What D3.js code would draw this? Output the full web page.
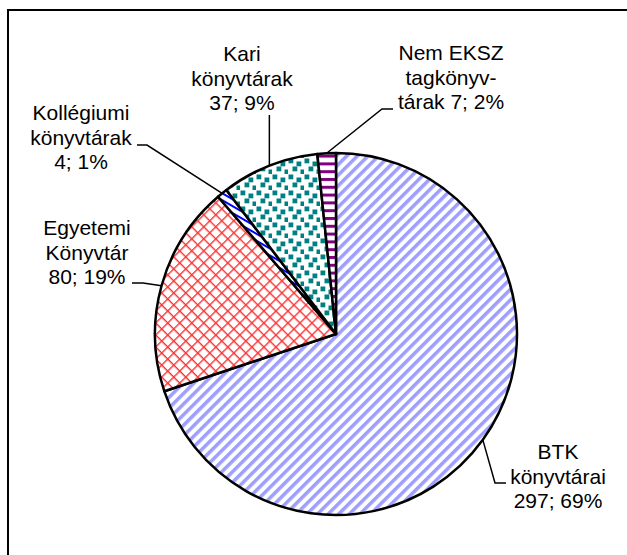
<!DOCTYPE html>
<html>
<head>
<meta charset="utf-8">
<script src="https://cdn.jsdelivr.net/npm/d3@7"></script>
<style>
  html, body { margin: 0; padding: 0; background: #fff; }
  svg { display: block; }
  text { font-family: "Liberation Sans", Arial, sans-serif; }
</style>
</head>
<body>
<script>
// ---- data ----
const categories = ["BTK könyvtárai", "Egyetemi Könyvtár", "Kollégiumi könyvtárak", "Kari könyvtárak", "Nem EKSZ tagkönyvtárak"];
const values = [297, 80, 4, 37, 7];
const percents = ["69%", "19%", "1%", "9%", "2%"];
const nameLines = [
  ["BTK", "könyvtárai"],
  ["Egyetemi", "Könyvtár"],
  ["Kollégiumi", "könyvtárak"],
  ["Kari", "könyvtárak"],
  ["Nem EKSZ", "tagkönyv-", "tárak"]
];
const patternIds = ["pBTK", "pEgy", "pKoll", "pKari", "pNem"];

// ---- layout (not data) ----
const W = 627, H = 555;
const cx = 336, cy = 334, R = 181;
const fontSize = 21, lineH = 24.5;
const labelLayout = [
  { x: 558, y: 459, leader: [[495, 483], [506, 483]] },
  { x: 87,  y: 235, leader: [[143, 283], [132, 283]] },
  { x: 81,  y: 120, leader: [[147, 145], [137, 145]] },
  { x: 242, y: 61,  leader: "vertical", top: 115 },
  { x: 451, y: 60,  leader: [[382, 109], [393, 109]] }
];

const svg = d3.select("body").append("svg").attr("width", W).attr("height", H);
svg.append("rect").attr("width", W).attr("height", H).attr("fill", "#fff");

// frame
svg.append("rect").attr("x", 8).attr("y", 10).attr("width", 700).attr("height", 700)
  .attr("fill", "none").attr("stroke", "#000").attr("stroke-width", 2);

const defs = svg.append("defs");
function basePattern(id, w, h, transform) {
  const p = defs.append("pattern").attr("id", id).attr("patternUnits", "userSpaceOnUse")
    .attr("width", w).attr("height", h);
  if (transform) p.attr("patternTransform", transform);
  p.append("rect").attr("width", w).attr("height", h).attr("fill", "#fff");
  return p;
}
// BTK: wide upward diagonal, lavender
{
  const s = 7.5;
  const p = basePattern("pBTK", s, s, "rotate(-45)");
  p.append("rect").attr("x", 0).attr("y", 0).attr("width", s).attr("height", 3.5).attr("fill", "#9e9eff");
}
// Egyetemi: red diagonal crosshatch
{
  const s = 8.5;
  const p = basePattern("pEgy", s, s, "rotate(45)");
  p.append("rect").attr("x", 0).attr("y", 0).attr("width", s).attr("height", 1.4).attr("fill", "#ff3030");
  p.append("rect").attr("x", 0).attr("y", 0).attr("width", 1.4).attr("height", s).attr("fill", "#ff3030");
}
// Kollégiumi: blue downward diagonal
{
  const p = basePattern("pKoll", 6, 6, "rotate(30)");
  p.append("rect").attr("x", 0).attr("y", 0).attr("width", 6).attr("height", 2).attr("fill", "#0000ff");
}
// Kari: teal confetti squares
{
  const p = basePattern("pKari", 16, 16, null);
  [[0.5, 0.5], [8.5, 3.5], [4.5, 8.5], [12.5, 11.5]].forEach(([x, y]) =>
    p.append("rect").attr("x", x).attr("y", y).attr("width", 4.8).attr("height", 4.8).attr("fill", "#008080"));
}
// Nem EKSZ: purple horizontal stripes
{
  const p = basePattern("pNem", 8, 7.8, null);
  p.append("rect").attr("x", 0).attr("y", 0).attr("width", 8).attr("height", 3).attr("fill", "#800080");
}

const pie = d3.pie().sort(null).value(d => d)(values);
const arc = d3.arc().innerRadius(0).outerRadius(R);

const g = svg.append("g").attr("transform", `translate(${cx},${cy})`);
g.selectAll("path").data(pie).join("path")
  .attr("d", arc)
  .attr("fill", (d, i) => `url(#${patternIds[i]})`)
  .attr("stroke", "#000").attr("stroke-width", 2.5).attr("stroke-linejoin", "round");

// leaders
pie.forEach((d, i) => {
  const a = (d.startAngle + d.endAngle) / 2;
  const px = cx + R * Math.sin(a), py = cy - R * Math.cos(a);
  const L = labelLayout[i];
  let pts;
  if (L.leader === "vertical") pts = [[px, py], [px, L.top]];
  else pts = [[px, py], ...L.leader];
  svg.append("path").attr("d", d3.line()(pts)).attr("fill", "none")
    .attr("stroke", "#000").attr("stroke-width", 1.5);
});

// labels
pie.forEach((d, i) => {
  const L = labelLayout[i];
  const lines = nameLines[i].slice();
  const valueText = `${values[i]}; ${percents[i]}`;
  if (lines.length === 3) lines[2] = lines[2] + " " + valueText;
  else lines.push(valueText);
  const t = svg.append("text").attr("text-anchor", "middle").attr("font-size", fontSize).attr("fill", "#000");
  lines.forEach((ln, k) => t.append("tspan").attr("x", L.x).attr("y", L.y + k * lineH).text(ln));
});
</script>
</body>
</html>
